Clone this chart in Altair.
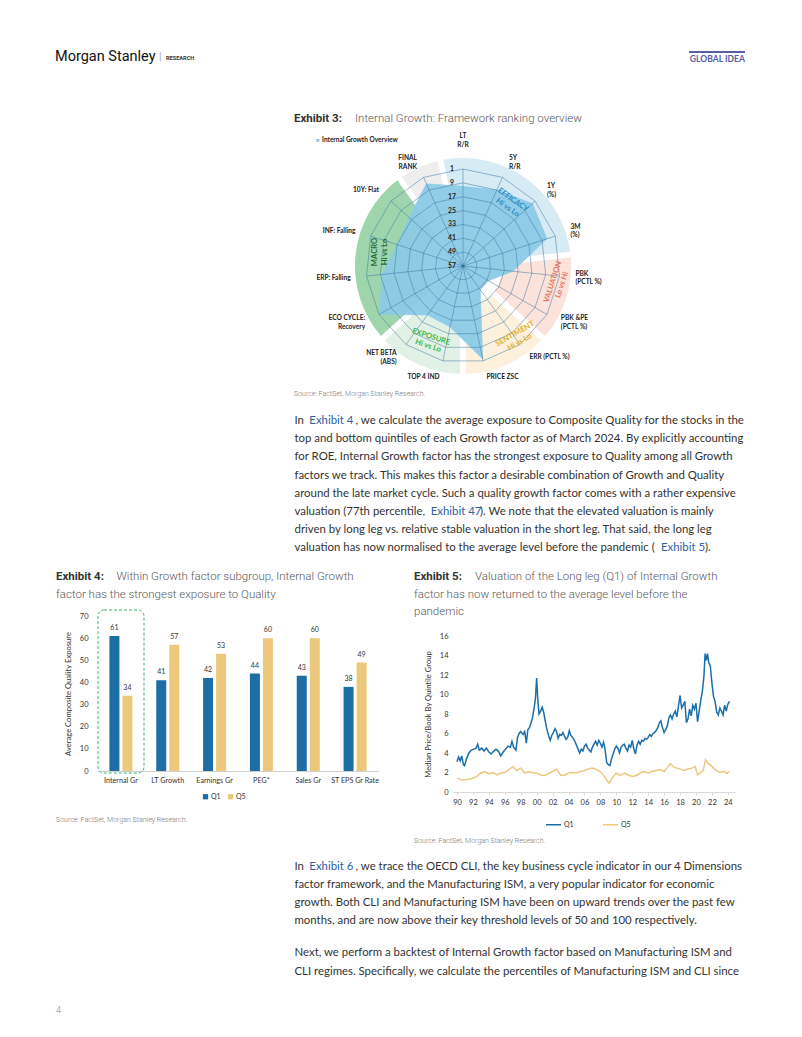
import math
import altair as alt
import pandas as pd

# ---------------- data ----------------
radar_labels = ["LT\nR/R", "5Y\nR/R", "1Y\n(%)", "3M\n(%)", "PBK\n(PCTL %)", "PBK &PE\n(PCTL %)",
                "ERR (PCTL %)", "PRICE ZSC", "TOP 4 IND", "NET BETA\n(ABS)", "ECO CYCLE:\nRecovery",
                "ERP: Falling", "INF: Falling", "10Y: Flat", "FINAL\nRANK"]
radar_ranks = [11, 9, 3, 6, 28, 40, 40, 2, 21, 22, 1, 10, 17, 15, 5]
rank_ticks = [1, 9, 17, 25, 33, 41, 49, 57]
group_names = ["EFFICACY", "VALUATION", "SENTIMENT", "EXPOSURE", "MACRO", "FINAL"]
group_first = [0, 4, 6, 8, 10, 14]
group_last = [3, 5, 7, 9, 13, 14]
group_colors = ["#d7ebf5", "#fbe2da", "#fdf1dd", "#e2f1e5", "#9fd5ac", "#eeeeee"]

bar_cats = ["Internal Gr", "LT Growth", "Earnings Gr", "PEG*", "Sales Gr", "ST EPS Gr Rate"]
bar_q1 = [61, 41, 42, 44, 43, 38]
bar_q5 = [34, 57, 53, 60, 60, 49]

q1_years = [1990.0, 1990.2, 1990.4, 1990.6, 1990.8, 1990.95, 1991.2, 1991.5, 1991.8, 1992.1, 1992.4, 1992.6,
            1992.8, 1993.1, 1993.4, 1993.7, 1994.0, 1994.3, 1994.6, 1994.9, 1995.2, 1995.5, 1995.8, 1996.1,
            1996.4, 1996.7, 1996.9, 1997.1, 1997.4, 1997.6, 1997.8, 1998.0, 1998.3, 1998.5, 1998.7, 1998.9,
            1999.1, 1999.3, 1999.5, 1999.7, 1999.85, 2000.0, 2000.15, 2000.3, 2000.5, 2000.7, 2000.9, 2001.1,
            2001.3, 2001.5, 2001.7, 2001.9, 2002.1, 2002.3, 2002.5, 2002.7, 2002.9, 2003.1, 2003.3, 2003.5,
            2003.7, 2003.9, 2004.1, 2004.3, 2004.6, 2004.8, 2005.0, 2005.2, 2005.4, 2005.6, 2005.8, 2006.0,
            2006.2, 2006.4, 2006.6, 2006.8, 2007.0, 2007.2, 2007.4, 2007.6, 2007.8, 2008.0, 2008.2, 2008.4,
            2008.6, 2008.8, 2009.0, 2009.2, 2009.4, 2009.6, 2009.8, 2010.0, 2010.2, 2010.4, 2010.6, 2010.8,
            2011.0, 2011.2, 2011.4, 2011.6, 2011.8, 2012.0, 2012.2, 2012.4, 2012.6, 2012.8, 2013.0, 2013.2,
            2013.4, 2013.6, 2013.8, 2014.0, 2014.2, 2014.4, 2014.6, 2014.8, 2015.0, 2015.2, 2015.4, 2015.6,
            2015.8, 2016.0, 2016.2, 2016.4, 2016.6, 2016.8, 2017.0, 2017.2, 2017.4, 2017.6, 2017.8, 2018.0,
            2018.2, 2018.4, 2018.6, 2018.8, 2019.0, 2019.2, 2019.4, 2019.6, 2019.8, 2020.0, 2020.2, 2020.4,
            2020.6, 2020.8, 2021.0, 2021.15, 2021.3, 2021.45, 2021.6, 2021.8, 2022.0, 2022.2, 2022.4, 2022.6,
            2022.8, 2023.0, 2023.2, 2023.4, 2023.6, 2023.8, 2024.0, 2024.2]
q1_vals = [3.1, 3.6, 3.2, 3.7, 2.8, 2.7, 3.4, 4.0, 4.3, 4.4, 4.5, 4.9,
           4.3, 4.5, 4.2, 4.5, 4.1, 3.9, 4.2, 4.4, 4.2, 3.7, 4.1, 4.4,
           4.7, 4.6, 5.2, 4.6, 4.3, 5.6, 6.0, 6.2, 5.9, 6.2, 5.0, 6.4,
           6.6, 7.1, 7.7, 8.7, 9.6, 11.7, 9.4, 8.0, 8.3, 8.7, 8.1, 7.2,
           6.4, 5.8, 5.3, 5.8, 6.1, 6.5, 6.2, 5.5, 5.9, 5.8, 6.1, 5.7,
           5.4, 5.6, 6.3, 5.8, 5.5, 5.2, 4.8, 4.4, 4.0, 4.4, 4.2, 4.7,
           4.9, 4.5, 4.3, 4.1, 4.6, 4.9, 5.2, 4.8, 5.3, 5.0, 4.6, 5.1,
           4.3, 3.0, 2.8, 2.7, 3.4, 3.9, 4.4, 4.7, 4.5, 4.0, 4.6, 4.8,
           4.9, 4.5, 4.2, 4.8, 4.6, 5.3, 4.4, 3.9, 4.8, 5.2, 4.9, 5.3,
           5.2, 5.5, 5.4, 5.6, 5.9, 5.7, 6.0, 6.1, 6.3, 6.6, 7.1, 7.3,
           6.6, 6.1, 6.4, 6.8, 7.6, 7.9, 7.5, 8.0, 8.3, 7.7, 8.8, 9.9,
           8.6, 8.9, 9.3, 7.1, 7.5, 8.5, 7.8, 8.9, 8.5, 9.1, 7.2, 8.3,
           9.4, 10.3, 11.9, 14.2, 13.5, 14.2, 13.3, 12.9, 11.2, 9.8, 9.3, 8.2,
           7.9, 8.6, 8.3, 7.9, 8.9, 8.3, 9.0, 9.3]
q5_years = [1990.0, 1990.5, 1991.0, 1991.5, 1992.0, 1992.5, 1993.0, 1993.5, 1994.0, 1994.5, 1995.0, 1995.5,
            1996.0, 1996.5, 1997.0, 1997.5, 1998.0, 1998.5, 1999.0, 1999.5, 2000.0, 2000.5, 2001.0, 2001.5,
            2002.0, 2002.5, 2003.0, 2003.5, 2004.0, 2004.5, 2005.0, 2005.5, 2006.0, 2006.5, 2007.0, 2007.5,
            2008.0, 2008.5, 2008.9, 2009.1, 2009.5, 2010.0, 2010.5, 2011.0, 2011.5, 2012.0, 2012.5, 2013.0,
            2013.5, 2014.0, 2014.5, 2015.0, 2015.5, 2016.0, 2016.5, 2016.8, 2017.2, 2017.6, 2018.0, 2018.5,
            2019.0, 2019.5, 2019.9, 2020.2, 2020.5, 2020.9, 2021.2, 2021.5, 2021.8, 2022.2, 2022.6, 2023.0,
            2023.5, 2023.9, 2024.2]
q5_vals = [1.45, 1.25, 1.25, 1.3, 1.4, 1.6, 1.95, 2.1, 1.85, 2.0, 1.75, 1.95,
           2.0, 2.3, 2.6, 2.2, 2.45, 1.95, 2.1, 1.95, 1.95, 1.75, 1.7, 1.9,
           2.1, 2.35, 1.75, 1.7, 1.95, 2.0, 1.95, 2.1, 2.2, 2.35, 2.45, 2.3,
           2.1, 1.6, 1.1, 0.9, 1.45, 1.95, 1.7, 1.95, 1.75, 1.6, 1.7, 1.95,
           2.1, 1.95, 2.1, 2.2, 2.3, 2.1, 2.6, 2.9, 2.55, 2.45, 2.35, 2.2,
           2.35, 2.45, 2.6, 1.75, 1.95, 2.2, 3.3, 2.95, 2.8, 2.45, 2.2, 2.0,
           2.1, 1.9, 2.1]
year_ticks = list(range(1990, 2025, 2))
price_ticks = list(range(0, 17, 2))
quality_ticks = list(range(0, 71, 10))

# ---------------- page geometry ----------------
W, H = 786, 1021
def px(x):
    return x - 8
def py(y):
    return y - 8

BODY = "Lato"
HEAD = "Roboto"
DARK = "#333333"
LINK = "#2f5fa5"
GREY = "#595959"
SRC = "#7a7a7a"

dummy = pd.DataFrame({"d": [0]})

def T(s, x, y, size=11.4, color=DARK, weight="normal", font=BODY, align="left",
      baseline="middle", angle=0, lineHeight=None):
    kw = dict(fontSize=size, color=color, fontWeight=weight, font=font, align=align, baseline=baseline)
    if angle:
        kw["angle"] = angle
    if lineHeight:
        kw["lineHeight"] = lineHeight
        kw["lineBreak"] = "\n"
    return alt.Chart(dummy).mark_text(**kw).encode(
        x=alt.value(px(x)), y=alt.value(py(y)), text=alt.value(s))

layers = []

# header
layers.append(T("Morgan Stanley", 55, 57, size=14.5, font=HEAD, color="#111111"))
layers.append(T("|", 159, 57, size=11, font=HEAD, color="#777777", weight=300))
layers.append(T("RESEARCH", 166, 58, size=5.6, font=HEAD, color="#333333", weight="bold"))
layers.append(T("GLOBAL IDEA", 745, 58.5, size=8.6, font=BODY, color="#5b5ea6", weight="bold", align="right"))
layers.append(alt.Chart(dummy).mark_rule(color="#5b5ea6", strokeWidth=2).encode(
    x=alt.value(px(689)), x2=alt.value(px(745)), y=alt.value(py(52))))

# exhibit titles
def exhibit(num, x, y, sub_x, lines):
    out = [T(f"Exhibit {num}:", x, y, size=11.5, font=HEAD, weight="bold", color=DARK)]
    out.append(T(lines[0], sub_x, y, size=11.5, font=HEAD, weight=300, color=GREY))
    for i, ln in enumerate(lines[1:]):
        out.append(T(ln, x, y + 17.8 * (i + 1), size=11.5, font=HEAD, weight=300, color=GREY))
    return out

layers += exhibit(3, 294, 119, 355, ["Internal Growth: Framework ranking overview"])
layers += exhibit(4, 56, 576.7, 116.5, ["Within Growth factor subgroup, Internal Growth",
                                        "factor has the strongest exposure to Quality"])
layers += exhibit(5, 414, 576.7, 475, ["Valuation of the Long leg (Q1) of Internal Growth",
                                       "factor has now returned to the average level before the",
                                       "pandemic"])

layers.append(T("Source: FactSet, Morgan Stanley Research.", 294, 394, size=7, font=HEAD, weight=300, color=SRC))
layers.append(T("Source: FactSet, Morgan Stanley Research.", 56, 820, size=7, font=HEAD, weight=300, color=SRC))
layers.append(T("Source: FactSet, Morgan Stanley Research.", 414, 840.5, size=7, font=HEAD, weight=300, color=SRC))
layers.append(T("4", 56, 1010, size=9, font=HEAD, weight=300, color="#888888"))

# body paragraphs
para1 = [
    [("In", 294.5, DARK), ("Exhibit 4", 309.3, LINK), (", we calculate the average exposure to Composite Quality for the stocks in the", 355.5, DARK)],
    [("top and bottom quintiles of each Growth factor as of March 2024. By explicitly accounting", 294.5, DARK)],
    [("for ROE, Internal Growth factor has the strongest exposure to Quality among all Growth", 294.5, DARK)],
    [("factors we track. This makes this factor a desirable combination of Growth and Quality", 294.5, DARK)],
    [("around the late market cycle. Such a quality growth factor comes with a rather expensive", 294.5, DARK)],
    [("valuation (77th percentile,", 294.5, DARK), ("Exhibit 47", 430.7, LINK), ("). We note that the elevated valuation is mainly", 480, DARK)],
    [("driven by long leg vs. relative stable valuation in the short leg. That said, the long leg", 294.5, DARK)],
    [("valuation has now normalised to the average level before the pandemic (", 294.5, DARK), ("Exhibit 5", 661, LINK), (").", 705, DARK)],
]
para1_y = [421, 439.2, 457.4, 475.6, 493.8, 512, 530.2, 548.4]
para2 = [
    [("In", 294.5, DARK), ("Exhibit 6", 309.3, LINK), (", we trace the OECD CLI, the key business cycle indicator in our 4 Dimensions", 355.5, DARK)],
    [("factor framework, and the Manufacturing ISM, a very popular indicator for economic", 294.5, DARK)],
    [("growth. Both CLI and Manufacturing ISM have been on upward trends over the past few", 294.5, DARK)],
    [("months, and are now above their key threshold levels of 50 and 100 respectively.", 294.5, DARK)],
    [("Next, we perform a backtest of Internal Growth factor based on Manufacturing ISM and", 294.5, DARK)],
    [("CLI regimes. Specifically, we calculate the percentiles of Manufacturing ISM and CLI since", 294.5, DARK)],
]
para2_y = [866.7, 884.7, 902.7, 920.7, 953.3, 971.7]
for segs, yy in list(zip(para1, para1_y)) + list(zip(para2, para2_y)):
    for s, xx, col in segs:
        layers.append(T(s, xx, yy, color=col))

# ---------------- Exhibit 3 : radar ----------------
CX, CY = 463, 266
K = 97 / 56.0
RM = 70
xs = alt.Scale(domain=[-RM, RM], range=[px(CX) - RM * K, px(CX) + RM * K], nice=False, zero=False)
ys = alt.Scale(domain=[-RM, RM], range=[py(CY) + RM * K, py(CY) - RM * K], nice=False, zero=False)
N = len(radar_labels)
STEP = 360.0 / N

def pos(r, i):
    a = math.radians(i * STEP)
    return r * math.sin(a), r * math.cos(a)

poly_df = pd.DataFrame([
    {"i": i, "x": pos(57 - rk, i)[0], "y": pos(57 - rk, i)[1]} for i, rk in enumerate(radar_ranks)])
grid_df = pd.DataFrame([
    {"lvl": t, "i": i, "x": pos(57 - t, i)[0], "y": pos(57 - t, i)[1]}
    for t in rank_ticks[:-1] for i in range(N)])
spoke_df = pd.DataFrame([
    {"i": i, "x0": 0.0, "y0": 0.0, "x2": pos(56, i)[0], "y2": pos(56, i)[1]} for i in range(N)])
tick_df = pd.DataFrame({"t": [str(t) for t in rank_ticks], "x0": [0.0] * len(rank_ticks),
                        "r": [57 - t for t in rank_ticks]})
sec_df = pd.DataFrame({
    "g": group_names,
    "a0": [(f - 0.5) * STEP for f in group_first],
    "a1": [(l + 0.5) * STEP for l in group_last],
    "outer": [108 / K] * len(group_names),
    "inner": [40 / K] * len(group_names),
    "c": group_colors})

LR = 113 / K
lab_rows = []
for i, lab in enumerate(radar_labels):
    ang = i * STEP
    rr = 130 / K if i == 0 else LR
    x, y = pos(rr, i)
    side = "top" if i == 0 else ("right" if ang < 180 else "left")
    lab_rows.append({"lab": lab, "x": x, "y": y, "side": side, "nl": lab.count("\n") + 1})
lab_df = pd.DataFrame(lab_rows)

XA = dict(scale=xs, axis=None)
YA = dict(scale=ys, axis=None)

arcs = alt.Chart(sec_df).mark_arc(padAngle=0.05, x=px(CX), y=py(CY)).encode(
    theta=alt.Theta("a0:Q", scale=alt.Scale(domain=[0, 360], range=[0, 2 * math.pi])),
    theta2="a1:Q",
    radius=alt.Radius("outer:Q", scale=alt.Scale(type="linear", domain=[0, RM], range=[0, RM * K])),
    radius2="inner:Q",
    color=alt.Color("c:N", scale=None),
)
poly = alt.Chart(poly_df).mark_line(interpolate="linear-closed", strokeWidth=0.5).encode(
    x=alt.X("x:Q", **XA), y=alt.Y("y:Q", **YA), order="i:Q",
    fill=alt.value("#8ccae6"), stroke=alt.value("#8ccae6"), fillOpacity=alt.value(0.95))
grid = alt.Chart(grid_df).mark_line(interpolate="linear-closed", stroke="#3a77a2", strokeWidth=0.5).encode(
    x=alt.X("x:Q", **XA), y=alt.Y("y:Q", **YA), detail="lvl:N", order="i:Q")
spokes = alt.Chart(spoke_df).mark_rule(stroke="#3a77a2", strokeWidth=0.5).encode(
    x=alt.X("x0:Q", **XA), y=alt.Y("y0:Q", **YA), x2="x2:Q", y2="y2:Q")
ticks = alt.Chart(tick_df).mark_text(dx=-11, fontSize=6.8, fontWeight="bold", font=BODY, color="#222222").encode(
    x=alt.X("x0:Q", **XA), y=alt.Y("r:Q", **YA), text="t:N")
dot = alt.Chart(tick_df).transform_filter(alt.datum.r == 0).mark_point(
    filled=True, size=10, color="#1f6fa5").encode(x=alt.X("x0:Q", **XA), y=alt.Y("r:Q", **YA))

def lab_layer(side, nl, align):
    return alt.Chart(lab_df).transform_filter(
        (alt.datum.side == side) & (alt.datum.nl == nl)).mark_text(
        align=align, baseline="middle", fontSize=6.6, fontWeight="bold", font=BODY, color="#222222",
        lineBreak="\n", lineHeight=8.6, dy=(0 if (nl == 1 or side == "top") else -4.3)).encode(
        x=alt.X("x:Q", **XA), y=alt.Y("y:Q", **YA), text="lab:N")

radar_labs = [lab_layer("top", 2, "center"),
              lab_layer("right", 1, "left"), lab_layer("right", 2, "left"),
              lab_layer("left", 1, "right"), lab_layer("left", 2, "right")]

radar = alt.layer(arcs, poly, grid, spokes, dot, ticks, *radar_labs)

# radar legend + sector captions
layers.append(T("■", 316, 140, size=6, color="#8cc8e4"))
layers.append(T("Internal Growth Overview", 322, 140.3, size=6.5, weight="bold", color="#222222"))
sector_caps = [
    ("EFFICACY\nHi vs Lo", 513, 200, 35, "#2b8cc4"),
    ("VALUATION\nLo vs Hi", 553, 282, 288, "#e8735a"),
    ("SENTIMENT\nHi vs Lo", 515, 334, 330, "#e2b124"),
    ("EXPOSURE\nHi vs Lo", 431, 337, 18, "#3ab54a"),
    ("MACRO\nHi vs Lo", 375, 252, 270, "#1d6b3b"),
]
sector_layers = []
for s, xx, yy, ang, col in sector_caps:
    sector_layers.append(T(s, xx, yy, size=7.6, weight="bold", color=col, align="center", angle=ang,
                           lineHeight=9.5))

# ---------------- Exhibit 4 : bars ----------------
bar_df = pd.DataFrame({"cat": bar_cats * 2, "q": ["Q1"] * len(bar_cats) + ["Q5"] * len(bar_cats),
                       "v": bar_q1 + bar_q5})
bx = alt.X("cat:N", sort=bar_cats,
           scale=alt.Scale(range=[px(97.5), px(378.5)], paddingInner=0, paddingOuter=0),
           axis=alt.Axis(orient="bottom", offset=py(771) - H, title=None, labelAngle=0, ticks=False,
                         domainColor="#d0d0d0", labelFont=BODY, labelFontSize=7.2, labelColor=DARK,
                         labelPadding=5))
by = alt.Y("v:Q", scale=alt.Scale(domain=[0, 70], range=[py(771), py(616)], nice=False),
           axis=alt.Axis(orient="left", offset=-px(91), values=quality_ticks, grid=False, domain=False,
                         ticks=False, labelFont=BODY, labelFontSize=7.5, labelColor=DARK, labelPadding=3,
                         title="Average Composite Quality Exposure", titleFont=BODY, titleFontSize=7.6,
                         titleFontWeight="normal", titleColor=DARK, titlePadding=7))
bcol = alt.Color("q:N", scale=alt.Scale(domain=["Q1", "Q5"], range=["#1c6ea4", "#ebc87b"]),
                 legend=alt.Legend(orient="none", legendX=px(202), legendY=py(793), direction="horizontal",
                                   title=None, symbolType="square", symbolSize=28, labelFontSize=7,
                                   labelFont=BODY, labelColor=DARK, columnPadding=6, labelOffset=2,
                                   symbolStrokeWidth=0))
bar_q1_layer = alt.Chart(bar_df).transform_filter(alt.datum.q == "Q1").mark_bar(width=10, xOffset=-6.5).encode(
    x=bx, y=by, color=bcol)
bar_q5_layer = alt.Chart(bar_df).transform_filter(alt.datum.q == "Q5").mark_bar(width=10, xOffset=6.5).encode(
    x=bx, y=by, color=bcol)
txt_q1 = alt.Chart(bar_df).transform_filter(alt.datum.q == "Q1").mark_text(
    dy=-8, dx=-6.5, fontSize=7, font=BODY, color=DARK).encode(x=bx, y=by, text="v:Q")
txt_q5 = alt.Chart(bar_df).transform_filter(alt.datum.q == "Q5").mark_text(
    dy=-8, dx=6.5, fontSize=7, font=BODY, color=DARK).encode(x=bx, y=by, text="v:Q")
barchart = alt.layer(bar_q1_layer, bar_q5_layer, txt_q1, txt_q5)
layers.append(alt.Chart(dummy).mark_rect(fillOpacity=0, stroke="#3cb371", strokeDash=[3, 2], strokeWidth=1,
                                         cornerRadius=6).encode(
    x=alt.value(px(98)), x2=alt.value(px(144)), y=alt.value(py(610)), y2=alt.value(py(773))))

# ---------------- Exhibit 5 : lines ----------------
line_df = pd.concat([
    pd.DataFrame({"yr": q1_years, "v": q1_vals, "s": "Q1"}),
    pd.DataFrame({"yr": q5_years, "v": q5_vals, "s": "Q5"})], ignore_index=True)
lx = alt.X("yr:Q", scale=alt.Scale(domain=[1989.5, 2024.9], range=[px(453), px(735)], nice=False, zero=False),
           axis=alt.Axis(orient="bottom", offset=py(792) - H, values=year_ticks,
                         labelExpr="substring(toString(datum.value), 2)", grid=False, domainColor="#d9d9d9",
                         tickColor="#d9d9d9", tickSize=3, labelFont=BODY, labelFontSize=7.5, labelColor=DARK,
                         labelPadding=3, title=None))
ly = alt.Y("v:Q", scale=alt.Scale(domain=[0, 16], range=[py(792), py(636)], nice=False),
           axis=alt.Axis(orient="left", offset=-px(451), values=price_ticks, grid=False, domain=False,
                         ticks=False, labelFont=BODY, labelFontSize=7.5, labelColor=DARK, labelPadding=3,
                         title="Median Price/Book By Quintile Group", titleFont=BODY, titleFontSize=7.6,
                         titleFontWeight="normal", titleColor=DARK, titlePadding=7))
lcol = alt.Color("s:N", scale=alt.Scale(domain=["Q1", "Q5"], range=["#1a6eaa", "#ebc97f"]),
                 legend=alt.Legend(orient="none", legendX=px(545), legendY=py(816), direction="horizontal",
                                   title=None, symbolType="stroke", symbolSize=225, symbolStrokeWidth=1.5,
                                   labelFontSize=7, labelFont=BODY, labelColor=DARK, columnPadding=26,
                                   labelOffset=2))
linechart = alt.Chart(line_df).mark_line(strokeWidth=1.5).encode(x=lx, y=ly, color=lcol)

chart = alt.layer(*layers, radar, *sector_layers, barchart, linechart).resolve_scale(
    x="independent", y="independent", color="independent"
).properties(
    width=W, height=H, padding=0, autosize=alt.AutoSizeParams(type="none"), background="white"
).configure_view(stroke=None)

chart.save("out.html", embed_options={"renderer": "svg", "actions": False})
